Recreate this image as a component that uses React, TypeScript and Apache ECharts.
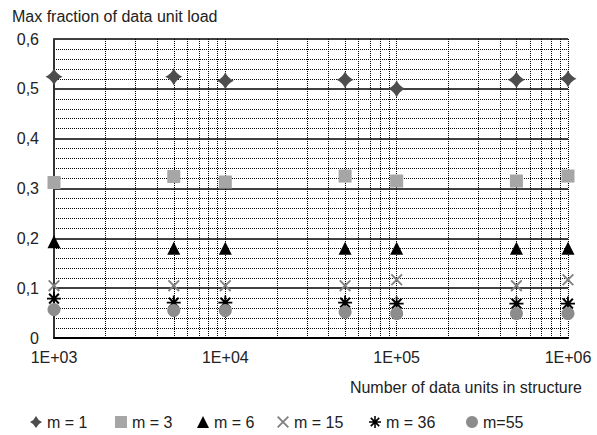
import React, { useEffect, useRef } from "react";
import * as echarts from "echarts";

const xValues = [1000, 5000, 10000, 50000, 100000, 500000, 1000000];
const m1 = [0.524, 0.524, 0.516, 0.518, 0.5, 0.518, 0.52];
const m3 = [0.312, 0.324, 0.313, 0.325, 0.315, 0.315, 0.325];
const m6 = [0.193, 0.18, 0.18, 0.18, 0.18, 0.18, 0.18];
const m15 = [0.105, 0.105, 0.105, 0.105, 0.117, 0.105, 0.117];
const m36 = [0.079, 0.071, 0.071, 0.071, 0.069, 0.069, 0.069];
const m55 = [0.057, 0.055, 0.055, 0.052, 0.049, 0.049, 0.049];
const minorX = [
  2000, 3000, 4000, 5000, 6000, 7000, 8000, 9000,
  20000, 30000, 40000, 50000, 60000, 70000, 80000, 90000,
  200000, 300000, 400000, 500000, 600000, 700000, 800000, 900000,
];
const seriesNames = ["m = 1", "m = 3", "m = 6", "m = 15", "m = 36", "m=55"];
const yTitle = "Max fraction of data unit load";
const xTitle = "Number of data units in structure";

const FONT = "'Liberation Sans', Arial, sans-serif";

const diamond = "path://M0,-1 Q0.3,-0.3 1,0 Q0.3,0.3 0,1 Q-0.3,0.3 -1,0 Q-0.3,-0.3 0,-1 Z";
const cross =
  "path://M-1,-0.78 L-0.78,-1 L1,0.78 L0.78,1 Z M-0.78,1 L-1,0.78 L0.78,-1 L1,-0.78 Z";
const asterisk =
  "path://M-1,-0.13 L1,-0.13 L1,0.13 L-1,0.13 Z M-0.13,-1 L0.13,-1 L0.13,1 L-0.13,1 Z M-0.6,-0.8 L0.8,0.6 L0.6,0.8 L-0.8,-0.6 Z M-0.8,0.6 L0.6,-0.8 L0.8,-0.6 L-0.6,0.8 Z";

export default function App() {
  const ref = useRef<HTMLDivElement>(null);
  useEffect(() => {
    document.body.style.margin = "0";
    const chart = echarts.init(ref.current!, null, { renderer: "svg" });
    const pair = (ys: number[]) => xValues.map((x, i) => [x, ys[i]]);
    const defs = [
      { data: m1, symbol: diamond, size: 17, color: "#4d4d4d" },
      { data: m3, symbol: "rect", size: 13, color: "#a6a6a6" },
      { data: m6, symbol: "triangle", size: 13, color: "#000000" },
      { data: m15, symbol: cross, size: 12, color: "#808080" },
      { data: m36, symbol: asterisk, size: 14, color: "#000000" },
      { data: m55, symbol: "circle", size: 13, color: "#8c8c8c" },
    ];
    const legendLeft = [25, 110, 192, 272, 364, 461];
    const series: any[] = defs.map((d, i) => ({
      name: seriesNames[i],
      type: "scatter",
      data: pair(d.data),
      symbol: d.symbol,
      symbolSize: d.size,
      itemStyle: { color: d.color, opacity: 1 },
      z: 5 + i,
    }));
    series.push({
      type: "scatter",
      data: [],
      silent: true,
      z: 1,
      markLine: {
        silent: true,
        symbol: "none",
        label: { show: false },
        animation: false,
        lineStyle: { type: "dotted", color: "#000", width: 1 },
        data: minorX.map((v) => ({ xAxis: v })),
      },
    });
    chart.setOption({
      animation: false,
      textStyle: { fontFamily: FONT },
      grid: { left: 54, right: 29, top: 39, bottom: 97 },
      xAxis: {
        type: "log",
        logBase: 10,
        min: 1000,
        max: 1000000,
        axisLine: { show: true, lineStyle: { color: "#000", width: 2 } },
        axisTick: { show: false },
        splitLine: { show: true, lineStyle: { type: "dotted", color: "#000", width: 1 } },
        axisLabel: {
          fontSize: 16,
          color: "#222",
          fontFamily: FONT,
          margin: 11,
          formatter: (v: number) => "1E+0" + Math.round(Math.log10(v)),
        },
      },
      yAxis: {
        type: "value",
        min: 0,
        max: 0.6,
        interval: 0.1,
        axisLine: { show: true, lineStyle: { color: "#333", width: 2 } },
        axisTick: { show: false },
        minorTick: { show: false, splitNumber: 5 },
        minorSplitLine: { show: true, lineStyle: { type: "dotted", color: "#000", width: 1 } },
        splitLine: { show: true, lineStyle: { color: "#000", width: 1.5 } },
        axisLabel: {
          fontSize: 16,
          color: "#222",
          fontFamily: FONT,
          margin: 15,
          formatter: (v: number) => (v === 0 ? "0" : v.toFixed(1).replace(".", ",")),
        },
      },
      legend: seriesNames.map((n, i) => ({
        data: [n],
        left: legendLeft[i],
        top: 409,
        itemWidth: 12,
        itemHeight: 12,
        itemGap: 4,
        textStyle: { fontSize: 16, color: "#222", fontFamily: FONT },
        selectedMode: false,
      })),
      graphic: [
        {
          type: "text",
          left: 12,
          top: 8,
          style: { text: yTitle, fontSize: 16, fill: "#222", fontFamily: FONT },
        },
        {
          type: "text",
          right: 15,
          top: 379,
          style: { text: xTitle, fontSize: 16, fill: "#222", fontFamily: FONT },
        },
      ],
      series,
    });
    return () => chart.dispose();
  }, []);
  return (
    <div
      ref={ref}
      style={{ position: "fixed", left: 0, top: 0, width: 597, height: 435, background: "#fff" }}
    />
  );
}
